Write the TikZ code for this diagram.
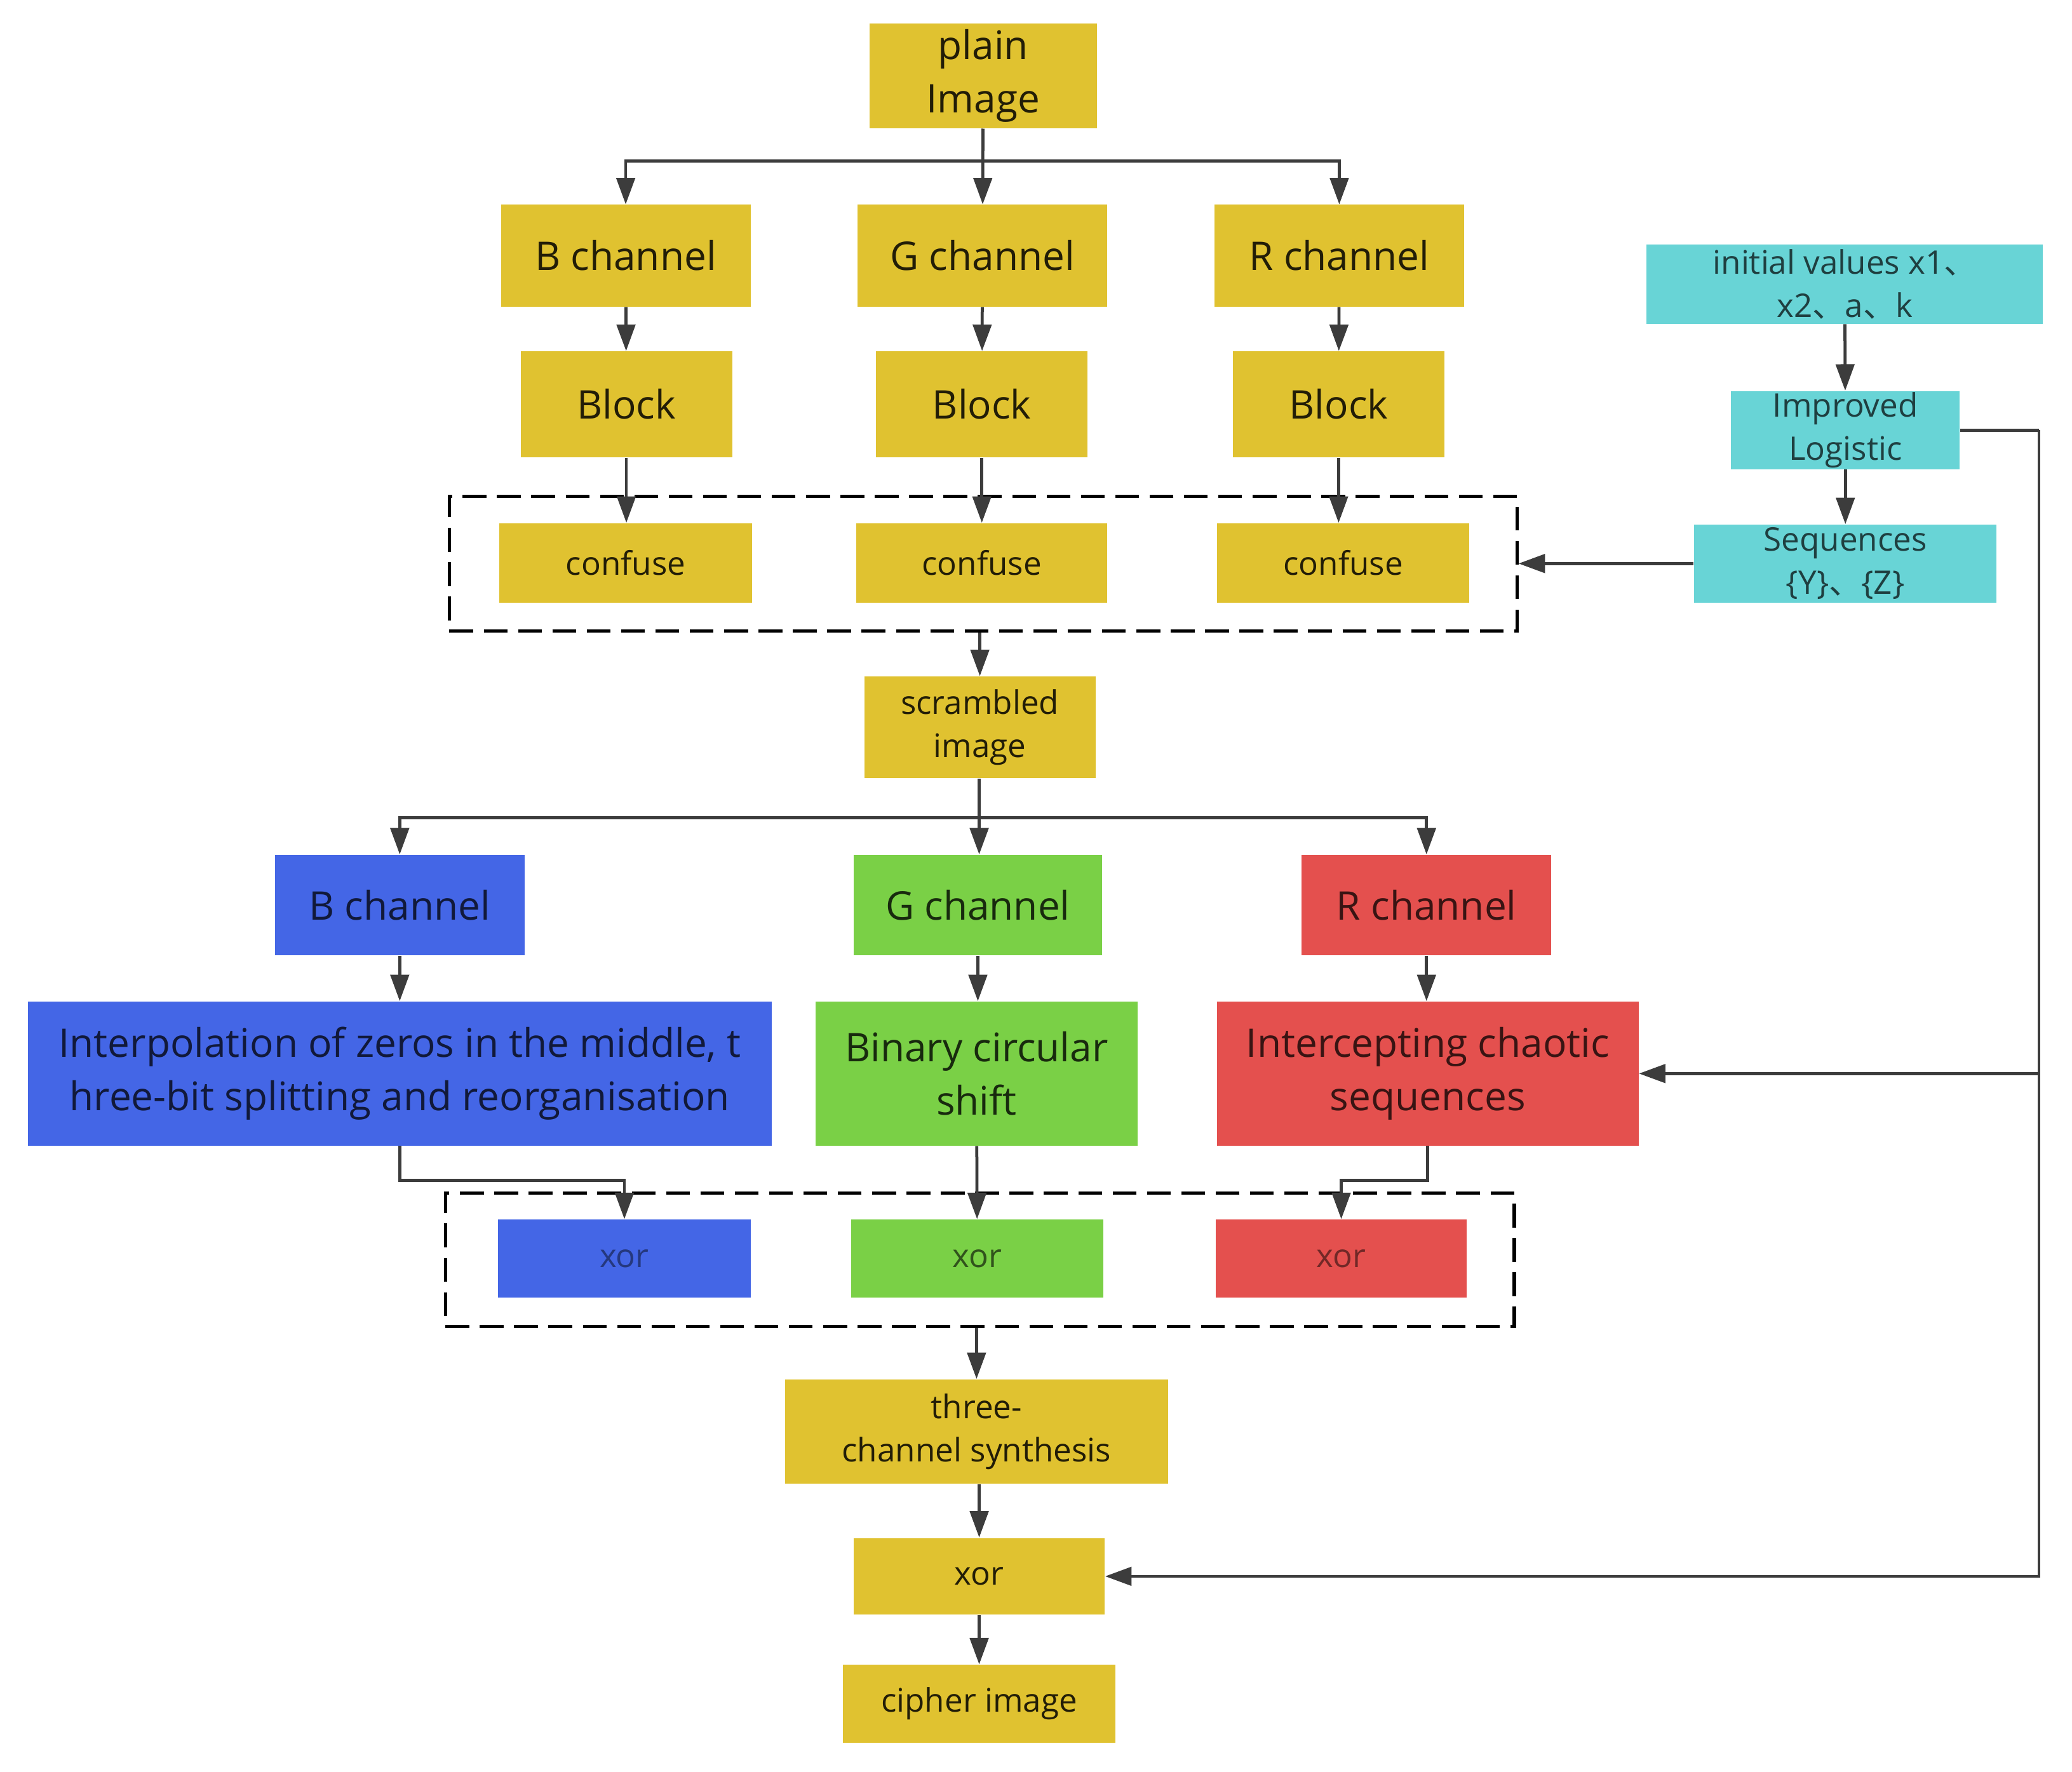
\documentclass[tikz,border=0pt]{standalone}
\usepackage{fontspec}
\setmainfont{Open Sans}
\newfontfamily\cjk{Noto Sans CJK SC}
\usepackage{tikz}
\usetikzlibrary{positioning,arrows.meta}

\definecolor{ylw}{RGB}{224,194,48}
\definecolor{cyn}{RGB}{104,212,214}
\definecolor{blu}{RGB}{68,102,230}
\definecolor{grn}{RGB}{122,208,70}
\definecolor{rdd}{RGB}{228,80,78}
\definecolor{lne}{RGB}{60,60,60}

\begin{document}
\begin{tikzpicture}[x=0.02cm, y=-0.02cm,
  big/.style={font=\fontsize{17}{23}\selectfont},
  small/.style={font=\fontsize{14}{18.5}\selectfont},
  ybox/.style={fill=ylw, text=ylw!15!black, inner sep=0pt, align=center},
  cbox/.style={fill=cyn, text=cyn!30!black, inner sep=0pt, align=center, small},
  bbox/.style={fill=blu, text=blu!25!black, inner sep=0pt, align=center},
  gbox/.style={fill=grn, text=grn!20!black, inner sep=0pt, align=center},
  rbox/.style={fill=rdd, text=rdd!25!black, inner sep=0pt, align=center},
  dashbox/.style={draw=black, line width=1.4pt, dash pattern=on 0.36cm off 0.16cm, inner sep=0pt},
  arr/.style={draw=lne, line width=1.3pt, -{Triangle[length=0.4cm,width=0.28cm]}},
  ln/.style={draw=lne, line width=1.3pt}]
\useasboundingbox (0,0) rectangle (1568,1341);

% dashed groups
\node (mixA) at (744,426.5) [dashbox, minimum width=16.16cm, minimum height=2.04cm] {};
\node (mixB) at (741.5,953.5) [dashbox, minimum width=16.18cm, minimum height=2.02cm] {};

% scrambling stage
\node (plain) at (744,57.5) [ybox, big, minimum width=3.44cm, minimum height=1.58cm] {plain\\Image};
\node (chB) at (473.5,193.5) [ybox, big, minimum width=3.78cm, minimum height=1.54cm] {B channel};
\node (chG) at (743.5,193.5) [ybox, big, minimum width=3.78cm, minimum height=1.54cm] {G channel};
\node (chR) at (1013.5,193.5) [ybox, big, minimum width=3.78cm, minimum height=1.54cm] {R channel};
\node (blkB) at (474,306) [ybox, big, minimum width=3.2cm, minimum height=1.6cm] {Block};
\node (blkG) at (743,306) [ybox, big, minimum width=3.2cm, minimum height=1.6cm] {Block};
\node (blkR) at (1013,306) [ybox, big, minimum width=3.2cm, minimum height=1.6cm] {Block};
\node (cfB) at (473.5,426) [ybox, small, minimum width=3.82cm, minimum height=1.2cm] {confuse};
\node (cfG) at (743,426) [ybox, small, minimum width=3.8cm, minimum height=1.2cm] {confuse};
\node (cfR) at (1016.5,426) [ybox, small, minimum width=3.82cm, minimum height=1.2cm] {confuse};
\node (scr) at (741.5,550.5) [ybox, small, minimum width=3.5cm, minimum height=1.54cm] {scrambled\\image};

% chaotic map
\node (init) at (1396,215) [cbox, minimum width=6cm, minimum height=1.2cm] {initial values x1{\cjk 、}\\x2{\cjk 、}a{\cjk 、}k};
\node (impr) at (1396.5,325.5) [cbox, minimum width=3.46cm, minimum height=1.18cm] {Improved\\Logistic};
\node (seq) at (1396.5,426.5) [cbox, minimum width=4.58cm, minimum height=1.18cm] {Sequences\\\{Y\}{\cjk 、}\{Z\}};

% diffusion stage
\node (dB) at (302.5,685) [bbox, big, minimum width=3.78cm, minimum height=1.52cm] {B channel};
\node (dG) at (740,685) [gbox, big, minimum width=3.76cm, minimum height=1.52cm] {G channel};
\node (dR) at (1079.5,685) [rbox, big, minimum width=3.78cm, minimum height=1.52cm] {R channel};
\node (intp) at (302.5,812.5) [bbox, big, minimum width=11.26cm, minimum height=2.18cm] {Interpolation of zeros in the middle, t\\hree-bit splitting and reorganisation};
\node (bcs) at (739,812.5) [gbox, big, minimum width=4.88cm, minimum height=2.18cm] {Binary circular\\shift};
\node (icp) at (1080.5,812.5) [rbox, big, minimum width=6.38cm, minimum height=2.18cm] {Intercepting chaotic\\sequences};
\node (xB) at (472.5,952.5) [bbox, small, text=blu!55!black, minimum width=3.82cm, minimum height=1.18cm] {xor};
\node (xG) at (739.5,952.5) [gbox, small, text=grn!40!black, minimum width=3.82cm, minimum height=1.18cm] {xor};
\node (xR) at (1015,952.5) [rbox, small, text=rdd!50!black, minimum width=3.8cm, minimum height=1.18cm] {xor};
\node (syn) at (739,1083.5) [ybox, small, minimum width=5.8cm, minimum height=1.58cm] {three-\\channel synthesis};
\node (xF) at (741,1193) [ybox, small, minimum width=3.8cm, minimum height=1.16cm] {xor};
\node (ciph) at (741,1289.5) [ybox, small, minimum width=4.12cm, minimum height=1.18cm] {cipher image};

\coordinate (splA) at (744,122);
\coordinate (splB) at (741,619);
\coordinate (bus) at (1543,325.5);

\draw[arr] (plain) -- (chG);
\draw[arr] (splA) -| (chB);
\draw[arr] (splA) -| (chR);
\draw
	(chB) edge[arr] (blkB)
	(chG) edge[arr] (blkG)
	(chR) edge[arr] (blkR)
	(blkB) edge[arr] (blkB |- cfB.north)
	(blkG) edge[arr] (blkG |- cfG.north)
	(blkR) edge[arr] (blkR |- cfR.north)
	(mixA.south -| scr) edge[arr] (scr)
	(init) edge[arr] (impr)
	(impr) edge[arr] (seq)
	(seq) edge[arr] (seq -| mixA.east)
;
\draw[arr] (splB |- scr.south) -- (splB |- dG.north);
\draw[arr] (splB) -| (dB);
\draw[arr] (splB) -| (dR);
\draw
	(dB) edge[arr] (intp.north -| dB)
	(dG) edge[arr] (bcs.north -| dG)
	(dR) edge[arr] (icp.north -| dR)
	(bcs) edge[arr] (xG)
	(mixB.south -| syn) edge[arr] (syn)
	(syn.south -| xF) edge[arr] (xF)
	(xF) edge[arr] (ciph)
;
\draw[arr] (intp.south) -- ++(0,26) -| (xB.north);
\draw[arr] (icp.south) -- ++(0,26) -| (xR.north);
\draw[ln] (impr.east) -- (bus);
\draw[arr] (bus) |- (xF.east);
\draw[arr] (bus |- icp.east) -- (icp.east);
\end{tikzpicture}
\end{document}
